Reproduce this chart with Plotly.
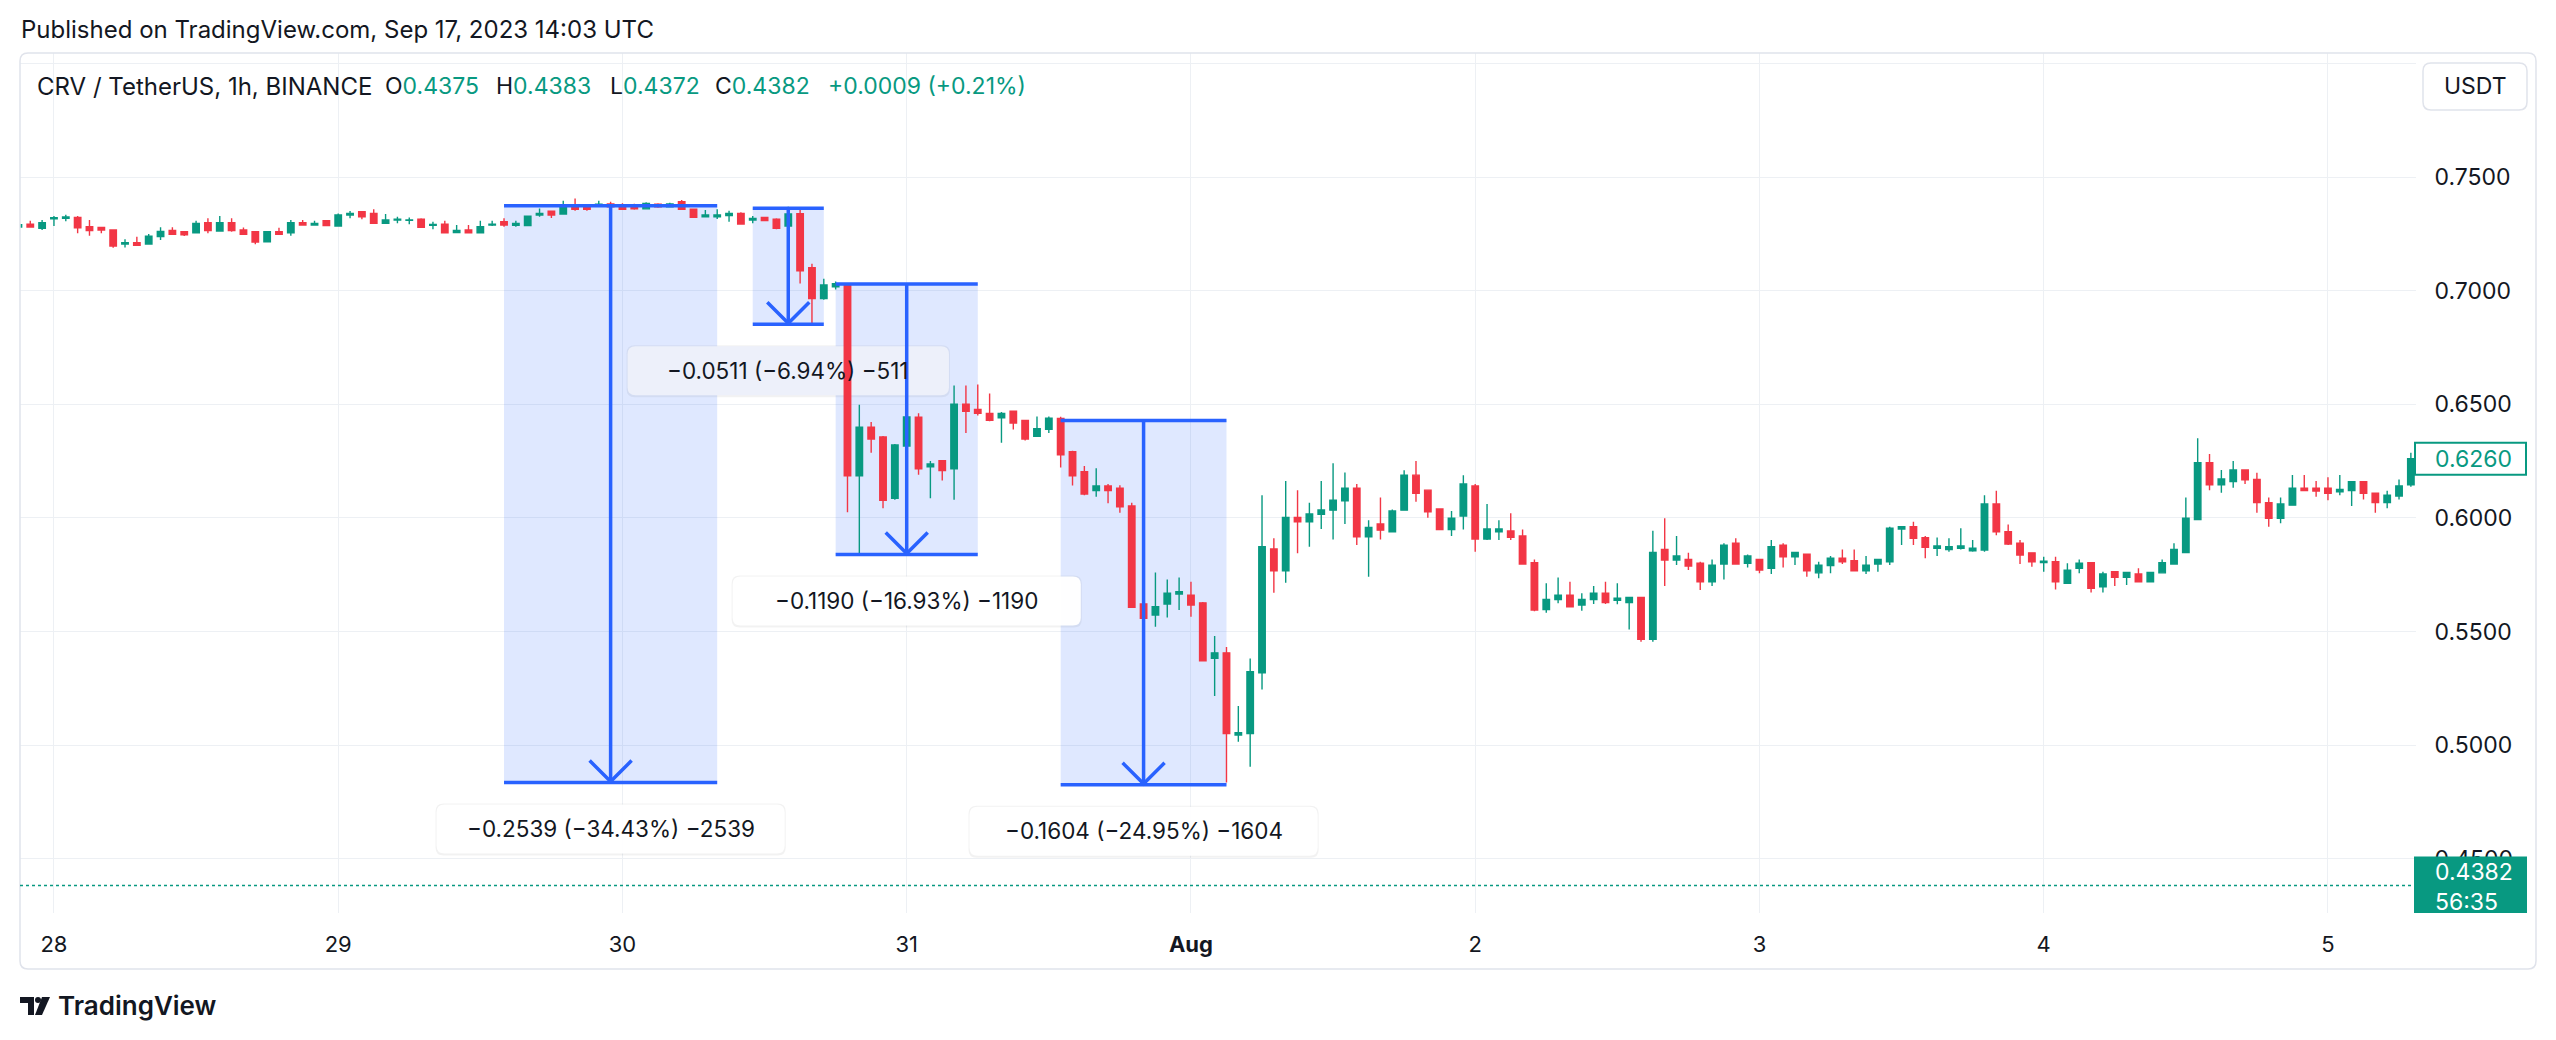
import plotly.graph_objects as go
import pandas as pd

# ---------------- data ----------------
start_time = "2023-07-27 21:00"
opens = [0.7280, 0.7292, 0.7274, 0.7316, 0.7318, 0.7322, 0.7281, 0.7278, 0.7267, 0.7205,
         0.7211, 0.7205, 0.7238, 0.7265, 0.7259, 0.7255, 0.7299, 0.7262, 0.7299, 0.7267,
         0.7259, 0.7215, 0.7259, 0.7255, 0.7299, 0.7289, 0.7308, 0.7284, 0.7333, 0.7347,
         0.7340, 0.7296, 0.7311, 0.7309, 0.7314, 0.7287, 0.7292, 0.7256, 0.7267, 0.7255,
         0.7289, 0.7303, 0.7287, 0.7286, 0.7333, 0.7350, 0.7337, 0.7372, 0.7372, 0.7372,
         0.7381, 0.7377, 0.7377, 0.7360, 0.7380, 0.7369, 0.7391, 0.7358, 0.7325, 0.7325,
         0.7330, 0.7340, 0.7311, 0.7322, 0.7314, 0.7284, 0.7339, 0.7101, 0.6965, 0.7017,
         0.7025, 0.6185, 0.6399, 0.6356, 0.6086, 0.6316, 0.6443, 0.6225, 0.6251, 0.6216,
         0.6500, 0.6477, 0.6460, 0.6440, 0.6469, 0.6429, 0.6359, 0.6390, 0.6438, 0.6291,
         0.6203, 0.6120, 0.6140, 0.6130, 0.6052, 0.5621, 0.5572, 0.5621, 0.5665, 0.5660,
         0.5626, 0.5382, 0.5406, 0.5044, 0.5051, 0.5318, 0.5863, 0.5767, 0.6002, 0.5983,
         0.6016, 0.6034, 0.6075, 0.6130, 0.5917, 0.5973, 0.5939, 0.6034, 0.6188, 0.6122,
         0.6039, 0.5949, 0.6008, 0.6140, 0.5907, 0.5939, 0.5942, 0.5920, 0.5803, 0.5597,
         0.5641, 0.5660, 0.5616, 0.5641, 0.5668, 0.5637, 0.5627, 0.5650, 0.5465, 0.5861,
         0.5814, 0.5817, 0.5800, 0.5719, 0.5797, 0.5888, 0.5800, 0.5817, 0.5778, 0.5880,
         0.5829, 0.5840, 0.5758, 0.5790, 0.5822, 0.5811, 0.5767, 0.5797, 0.5807, 0.5951,
         0.5961, 0.5913, 0.5866, 0.5861, 0.5866, 0.5855, 0.5858, 0.6061, 0.5939, 0.5888,
         0.5846, 0.5803, 0.5807, 0.5712, 0.5778, 0.5803, 0.5697, 0.5763, 0.5738, 0.5753,
         0.5719, 0.5758, 0.5797, 0.5847, 0.5993, 0.6243, 0.6145, 0.6160, 0.6211, 0.6169,
         0.6067, 0.5998, 0.6056, 0.6130, 0.6130, 0.6130, 0.6115, 0.6120, 0.6159, 0.6108,
         0.6067, 0.6096, 0.6145]
highs = [0.7300, 0.7308, 0.7311, 0.7328, 0.7334, 0.7328, 0.7311, 0.7278, 0.7267, 0.7226,
         0.7237, 0.7249, 0.7279, 0.7279, 0.7262, 0.7308, 0.7318, 0.7328, 0.7318, 0.7278,
         0.7259, 0.7262, 0.7277, 0.7311, 0.7311, 0.7308, 0.7308, 0.7340, 0.7350, 0.7347,
         0.7358, 0.7337, 0.7325, 0.7322, 0.7318, 0.7303, 0.7308, 0.7289, 0.7289, 0.7308,
         0.7308, 0.7318, 0.7308, 0.7331, 0.7362, 0.7350, 0.7396, 0.7406, 0.7381, 0.7396,
         0.7391, 0.7385, 0.7382, 0.7389, 0.7385, 0.7387, 0.7399, 0.7360, 0.7355, 0.7358,
         0.7352, 0.7345, 0.7328, 0.7325, 0.7318, 0.7369, 0.7368, 0.7118, 0.7052, 0.7040,
         0.7029, 0.6498, 0.6422, 0.6360, 0.6325, 0.6541, 0.6460, 0.6250, 0.6255, 0.6582,
         0.6582, 0.6587, 0.6547, 0.6466, 0.6470, 0.6432, 0.6446, 0.6446, 0.6445, 0.6295,
         0.6228, 0.6218, 0.6149, 0.6144, 0.6067, 0.5668, 0.5759, 0.5729, 0.5738, 0.5719,
         0.5630, 0.5480, 0.5432, 0.5172, 0.5381, 0.6100, 0.5910, 0.6162, 0.6122, 0.6066,
         0.6162, 0.6240, 0.6200, 0.6149, 0.5990, 0.6090, 0.6037, 0.6210, 0.6250, 0.6125,
         0.6042, 0.6030, 0.6188, 0.6149, 0.6061, 0.5990, 0.6020, 0.5949, 0.5817, 0.5712,
         0.5738, 0.5719, 0.5668, 0.5700, 0.5719, 0.5712, 0.5650, 0.5652, 0.5943, 0.5998,
         0.5920, 0.5846, 0.5807, 0.5817, 0.5888, 0.5910, 0.5839, 0.5820, 0.5902, 0.5888,
         0.5848, 0.5842, 0.5807, 0.5832, 0.5861, 0.5861, 0.5832, 0.5820, 0.5961, 0.5962,
         0.5983, 0.5920, 0.5914, 0.5910, 0.5954, 0.5902, 0.6100, 0.6119, 0.5971, 0.5902,
         0.5848, 0.5829, 0.5829, 0.5800, 0.5817, 0.5805, 0.5763, 0.5765, 0.5762, 0.5778,
         0.5762, 0.5817, 0.5888, 0.6090, 0.6350, 0.6281, 0.6211, 0.6250, 0.6213, 0.6199,
         0.6090, 0.6090, 0.6189, 0.6189, 0.6162, 0.6179, 0.6189, 0.6159, 0.6161, 0.6110,
         0.6119, 0.6169, 0.6287]
lows = [0.7275, 0.7278, 0.7267, 0.7284, 0.7305, 0.7252, 0.7242, 0.7252, 0.7189, 0.7190,
        0.7199, 0.7202, 0.7223, 0.7246, 0.7240, 0.7254, 0.7252, 0.7260, 0.7259, 0.7245,
        0.7204, 0.7212, 0.7246, 0.7242, 0.7288, 0.7288, 0.7285, 0.7281, 0.7318, 0.7314,
        0.7296, 0.7294, 0.7296, 0.7292, 0.7277, 0.7270, 0.7253, 0.7253, 0.7253, 0.7253,
        0.7284, 0.7281, 0.7281, 0.7284, 0.7325, 0.7320, 0.7335, 0.7352, 0.7352, 0.7370,
        0.7365, 0.7355, 0.7356, 0.7358, 0.7365, 0.7366, 0.7356, 0.7320, 0.7323, 0.7315,
        0.7303, 0.7290, 0.7296, 0.7305, 0.7270, 0.7280, 0.7031, 0.6852, 0.6960, 0.7005,
        0.6025, 0.5842, 0.6286, 0.6042, 0.6080, 0.6208, 0.6190, 0.6086, 0.6164, 0.6080,
        0.6373, 0.6450, 0.6425, 0.6331, 0.6389, 0.6340, 0.6356, 0.6373, 0.6222, 0.6142,
        0.6100, 0.6093, 0.6064, 0.6023, 0.5603, 0.5316, 0.5521, 0.5562, 0.5594, 0.5565,
        0.5368, 0.5216, 0.4835, 0.5015, 0.4905, 0.5245, 0.5670, 0.5714, 0.5844, 0.5873,
        0.5951, 0.5905, 0.5973, 0.5880, 0.5741, 0.5905, 0.5939, 0.6031, 0.6071, 0.6000,
        0.5945, 0.5920, 0.5949, 0.5851, 0.5902, 0.5902, 0.5902, 0.5794, 0.5589, 0.5582,
        0.5624, 0.5606, 0.5591, 0.5621, 0.5621, 0.5620, 0.5509, 0.5455, 0.5455, 0.5700,
        0.5792, 0.5770, 0.5682, 0.5700, 0.5729, 0.5795, 0.5782, 0.5756, 0.5753, 0.5782,
        0.5792, 0.5741, 0.5734, 0.5756, 0.5797, 0.5765, 0.5753, 0.5763, 0.5792, 0.5880,
        0.5880, 0.5822, 0.5832, 0.5851, 0.5861, 0.5851, 0.5851, 0.5924, 0.5880, 0.5797,
        0.5785, 0.5763, 0.5685, 0.5712, 0.5756, 0.5671, 0.5671, 0.5700, 0.5704, 0.5715,
        0.5715, 0.5756, 0.5795, 0.5845, 0.5990, 0.6122, 0.6111, 0.6133, 0.6149, 0.6023,
        0.5961, 0.5976, 0.6054, 0.6118, 0.6093, 0.6078, 0.6100, 0.6052, 0.6081, 0.6023,
        0.6042, 0.6081, 0.6137]
closes = [0.7290, 0.7280, 0.7299, 0.7321, 0.7324, 0.7277, 0.7264, 0.7267, 0.7196, 0.7211,
          0.7199, 0.7240, 0.7260, 0.7248, 0.7246, 0.7296, 0.7264, 0.7299, 0.7264, 0.7248,
          0.7214, 0.7259, 0.7248, 0.7299, 0.7289, 0.7296, 0.7286, 0.7333, 0.7340, 0.7325,
          0.7296, 0.7311, 0.7314, 0.7311, 0.7279, 0.7291, 0.7255, 0.7265, 0.7255, 0.7281,
          0.7292, 0.7289, 0.7296, 0.7328, 0.7340, 0.7333, 0.7369, 0.7358, 0.7358, 0.7380,
          0.7369, 0.7358, 0.7360, 0.7384, 0.7369, 0.7381, 0.7358, 0.7323, 0.7333, 0.7333,
          0.7340, 0.7293, 0.7318, 0.7308, 0.7274, 0.7337, 0.7087, 0.6965, 0.7025, 0.7031,
          0.6185, 0.6399, 0.6347, 0.6077, 0.6321, 0.6444, 0.6216, 0.6237, 0.6208, 0.6500,
          0.6469, 0.6460, 0.6429, 0.6460, 0.6417, 0.6347, 0.6392, 0.6439, 0.6277, 0.6185,
          0.6105, 0.6140, 0.6120, 0.6049, 0.5606, 0.5558, 0.5609, 0.5668, 0.5675, 0.5616,
          0.5371, 0.5406, 0.5051, 0.5054, 0.5323, 0.5873, 0.5767, 0.6002, 0.5983, 0.6017,
          0.6035, 0.6078, 0.6130, 0.5917, 0.5958, 0.5946, 0.6030, 0.6188, 0.6108, 0.6027,
          0.5949, 0.5998, 0.6149, 0.5907, 0.5951, 0.5951, 0.5914, 0.5797, 0.5594, 0.5641,
          0.5660, 0.5609, 0.5641, 0.5668, 0.5627, 0.5646, 0.5650, 0.5465, 0.5848, 0.5814,
          0.5832, 0.5788, 0.5719, 0.5792, 0.5880, 0.5797, 0.5832, 0.5770, 0.5873, 0.5829,
          0.5848, 0.5767, 0.5792, 0.5822, 0.5807, 0.5767, 0.5792, 0.5817, 0.5954, 0.5961,
          0.5910, 0.5870, 0.5876, 0.5873, 0.5876, 0.5866, 0.6061, 0.5939, 0.5885, 0.5836,
          0.5807, 0.5809, 0.5719, 0.5770, 0.5800, 0.5690, 0.5753, 0.5738, 0.5760, 0.5719,
          0.5760, 0.5803, 0.5861, 0.5998, 0.6243, 0.6145, 0.6171, 0.6211, 0.6167, 0.6067,
          0.5998, 0.6061, 0.6130, 0.6120, 0.6118, 0.6108, 0.6125, 0.6159, 0.6108, 0.6067,
          0.6100, 0.6140, 0.6260]

day_ticks = ["2023-07-28", "2023-07-29", "2023-07-30", "2023-07-31", "2023-08-01",
             "2023-08-02", "2023-08-03", "2023-08-04", "2023-08-05"]
day_labels = ["28", "29", "30", "31", "<b>Aug</b>", "2", "3", "4", "5"]
price_ticks = [0.45, 0.50, 0.55, 0.60, 0.65, 0.70, 0.75, 0.80]
price_labels = ["0.4500", "0.5000", "0.5500", "0.6000", "0.6500", "0.7000", "0.7500", ""]

# price-range measurement drawings
m_start = ["2023-07-29 14:00", "2023-07-30 11:00", "2023-07-30 18:00", "2023-07-31 13:00"]
m_end = ["2023-07-30 08:00", "2023-07-30 17:00", "2023-07-31 06:00", "2023-08-01 03:00"]
m_from = [0.7374, 0.7363, 0.7029, 0.6429]
m_to = [0.4835, 0.6852, 0.5839, 0.4825]
m_text = ["\u22120.2539 (\u221234.43%) \u22122539",
          "\u22120.0511 (\u22126.94%) \u2212511",
          "\u22120.1190 (\u221216.93%) \u22121190",
          "\u22120.1604 (\u221224.95%) \u22121604"]
m_label_bg = ["rgba(255,255,255,0.97)", "#EDF0FA", "rgba(255,255,255,0.97)", "rgba(255,255,255,0.97)"]
m_label_layer = ["above", "between", "above", "above"]

symbol = "CRV / TetherUS, 1h, BINANCE"
ohlc_last = [("O", "0.4375"), ("H", "0.4383"), ("L", "0.4372"), ("C", "0.4382")]
change_text = "+0.0009 (+0.21%)"
last_price = 0.4382
countdown = "56:35"
published = "Published on TradingView.com, Sep 17, 2023 14:03 UTC"

# ---------------- style ----------------
UP = "#089981"
DOWN = "#F23645"
BLUE = "#2962FF"
TXT = "#131722"
GRID = "#EDF0F4"
FONT = "Inter"
W, H = 2556, 1040
L, R, T, B = 20, 2416, 53, 913


def PX(px):
    return (px - L) / (R - L)


def PY(py):
    return (B - py) / (B - T)


def rr(x0, y0, x1, y1, r, fx=lambda v: v, fy=lambda v: v):
    # rounded rectangle path; (x0,y0) one corner, (x1,y1) opposite corner
    xa, xb = min(x0, x1), max(x0, x1)
    ya, yb = min(y0, y1), max(y0, y1)
    pts = [("M", xa + r, ya), ("L", xb - r, ya), ("Q", xb, ya, xb, ya + r),
           ("L", xb, yb - r), ("Q", xb, yb, xb - r, yb), ("L", xa + r, yb),
           ("Q", xa, yb, xa, yb - r), ("L", xa, ya + r), ("Q", xa, ya, xa + r, ya)]
    out = []
    for p in pts:
        vals = p[1:]
        s = [f"{fx(vals[i]):.6f},{fy(vals[i + 1]):.6f}" for i in range(0, len(vals), 2)]
        out.append(p[0] + " " + " ".join(s))
    return " ".join(out) + " Z"


times = pd.date_range(start_time, periods=len(opens), freq="h")

fig = go.Figure()
fig.add_trace(go.Candlestick(
    x=times, open=opens, high=highs, low=lows, close=closes,
    increasing=dict(line=dict(color=UP, width=1.4), fillcolor=UP),
    decreasing=dict(line=dict(color=DOWN, width=1.4), fillcolor=DOWN),
    whiskerwidth=0, showlegend=False, hoverinfo="skip"))

shapes = []
annotations = []

# frame around chart
shapes.append(dict(type="path", xref="paper", yref="paper",
                   path=rr(L, T, 2536, 969, 8, PX, PY),
                   line=dict(color="#E0E3EB", width=1.5), layer="above"))

# measurement tools
m_times = []
for s, e in zip(m_start, m_end):
    ts, te = pd.Timestamp(s), pd.Timestamp(e)
    m_times.append((ts, te, ts + (te - ts) / 2))

# 1) translucent range fills
for (ts, te, tc), p0, p1 in zip(m_times, m_from, m_to):
    shapes.append(dict(type="rect", xref="x", yref="y", x0=ts, x1=te, y0=p1, y1=p0,
                       fillcolor="rgba(41,98,255,0.15)", line=dict(width=0), layer="between"))
# 2) label plates
for (ts, te, tc), p1, txt, bg, lay in zip(m_times, m_to, m_text, m_label_bg, m_label_layer):
    hw = len(txt) * 6.7 + 20
    shapes.append(dict(type="path", xref="x", yref="y", xsizemode="pixel", ysizemode="pixel",
                       xanchor=tc, yanchor=p1, path=rr(-hw - 1, -73, hw + 1, -21, 8),
                       fillcolor="rgba(0,0,0,0.05)", line=dict(width=0), layer=lay))
    shapes.append(dict(type="path", xref="x", yref="y", xsizemode="pixel", ysizemode="pixel",
                       xanchor=tc, yanchor=p1, path=rr(-hw, -71, hw, -22, 8),
                       fillcolor=bg, line=dict(width=0), layer=lay))
    annotations.append(dict(x=tc, y=p1, xref="x", yref="y", text=txt, showarrow=False,
                            xanchor="center", yanchor="middle", yshift=-46,
                            font=dict(family=FONT, size=22.5, color=TXT)))
# 3) lines and arrows
for (ts, te, tc), p0, p1 in zip(m_times, m_from, m_to):
    for yy in (p0, p1):
        shapes.append(dict(type="line", xref="x", yref="y", x0=ts, x1=te, y0=yy, y1=yy,
                           line=dict(color=BLUE, width=3.5), layer="above"))
    shapes.append(dict(type="line", xref="x", yref="y", x0=tc, x1=tc, y0=p0, y1=p1,
                       line=dict(color=BLUE, width=3.5), layer="above"))
    shapes.append(dict(type="path", xref="x", yref="y", xsizemode="pixel", ysizemode="pixel",
                       xanchor=tc, yanchor=p1, path="M -21,22 L 0,1 L 21,22",
                       line=dict(color=BLUE, width=3.5), layer="above"))

# last price dotted line
shapes.append(dict(type="line", xref="paper", yref="y", x0=0, x1=1, y0=last_price, y1=last_price,
                   line=dict(color=UP, width=1.5, dash="dot"), layer="above"))

# price badges on the axis
shapes.append(dict(type="rect", xref="paper", yref="y", ysizemode="pixel", yanchor=closes[-1],
                   x0=PX(2415), x1=PX(2526), y0=-16, y1=16,
                   fillcolor="white", line=dict(color=UP, width=2), layer="above"))
annotations.append(dict(x=PX(2433), y=closes[-1], xref="paper", yref="y", text=f"{closes[-1]:.4f}",
                        showarrow=False, xanchor="left", yanchor="middle",
                        font=dict(family=FONT, size=23, color=UP)))
shapes.append(dict(type="rect", xref="paper", yref="y", ysizemode="pixel", yanchor=last_price,
                   x0=PX(2414), x1=PX(2527), y0=-31, y1=29,
                   fillcolor=UP, line=dict(width=0), layer="above"))
annotations.append(dict(x=PX(2433), y=last_price, xref="paper", yref="y",
                        text=f"{last_price:.4f}<br>{countdown}", align="left",
                        showarrow=False, xanchor="left", yanchor="middle", yshift=-1,
                        font=dict(family=FONT, size=23, color="white")))

# USDT button
shapes.append(dict(type="path", xref="paper", yref="paper", path=rr(2423, 63, 2527, 110, 8, PX, PY),
                   fillcolor="white", line=dict(color="#E0E3EB", width=1.5), layer="above"))
annotations.append(dict(x=PX(2475), y=PY(86.5), xref="paper", yref="paper", text="USDT",
                        showarrow=False, xanchor="center", yanchor="middle",
                        font=dict(family=FONT, size=23, color=TXT)))

# header texts
annotations.append(dict(x=PX(19), y=PY(29), xref="paper", yref="paper", text=published,
                        showarrow=False, xanchor="left", yanchor="middle",
                        font=dict(family=FONT, size=24, color=TXT)))
annotations.append(dict(x=PX(35), y=PY(86), xref="paper", yref="paper", text=symbol,
                        showarrow=False, xanchor="left", yanchor="middle",
                        font=dict(family=FONT, size=24, color=TXT)))
for (lab, val), xpx in zip(ohlc_last, [383, 494, 608, 713]):
    annotations.append(dict(x=PX(xpx), y=PY(86), xref="paper", yref="paper",
                            text=f"{lab}<span style='color:{UP}'>{val}</span>",
                            showarrow=False, xanchor="left", yanchor="middle",
                            font=dict(family=FONT, size=23, color=TXT)))
annotations.append(dict(x=PX(826), y=PY(86), xref="paper", yref="paper", text=change_text,
                        showarrow=False, xanchor="left", yanchor="middle",
                        font=dict(family=FONT, size=23, color=UP)))

# TradingView logo + wordmark
shapes.append(dict(type="path", xref="paper", yref="paper", fillcolor=TXT, line=dict(width=0),
                   path=f"M {PX(20)},{PY(997)} L {PX(34)},{PY(997)} L {PX(34)},{PY(1015)} "
                        f"L {PX(28)},{PY(1015)} L {PX(28)},{PY(1003)} L {PX(20)},{PY(1003)} Z"))
shapes.append(dict(type="circle", xref="paper", yref="paper", fillcolor=TXT, line=dict(width=0),
                   x0=PX(35), x1=PX(41), y0=PY(1003), y1=PY(997)))
shapes.append(dict(type="path", xref="paper", yref="paper", fillcolor=TXT, line=dict(width=0),
                   path=f"M {PX(42)},{PY(997)} L {PX(50)},{PY(997)} L {PX(42)},{PY(1015)} "
                        f"L {PX(35)},{PY(1015)} Z"))
annotations.append(dict(x=PX(56), y=PY(1006), xref="paper", yref="paper", text="TradingView",
                        showarrow=False, xanchor="left", yanchor="middle",
                        font=dict(family=FONT, size=26, color=TXT, weight=600)))

fig.update_layout(
    width=W, height=H,
    margin=dict(l=L, r=W - R, t=T, b=H - B, pad=0),
    paper_bgcolor="white", plot_bgcolor="white",
    boxgap=0.22,
    showlegend=False,
    shapes=shapes,
    annotations=annotations,
    font=dict(family=FONT, size=22, color=TXT),
    xaxis=dict(type="date", range=["2023-07-27 21:08", "2023-08-05 07:26"],
               tickvals=day_ticks, ticktext=day_labels, showgrid=True, gridcolor=GRID,
               gridwidth=1, zeroline=False, showline=False, ticks="outside", ticklen=12,
               tickcolor="rgba(0,0,0,0)", tickfont=dict(family=FONT, size=22, color=TXT),
               rangeslider=dict(visible=False), fixedrange=True),
    yaxis=dict(side="right", range=[0.4261, 0.80458], tickvals=price_ticks, ticktext=price_labels,
               showgrid=True, gridcolor=GRID, gridwidth=1, zeroline=False, showline=False,
               ticks="outside", ticklen=13, tickcolor="rgba(0,0,0,0)",
               tickfont=dict(family=FONT, size=23, color=TXT), fixedrange=True),
)

fig.write_html("out.html")
